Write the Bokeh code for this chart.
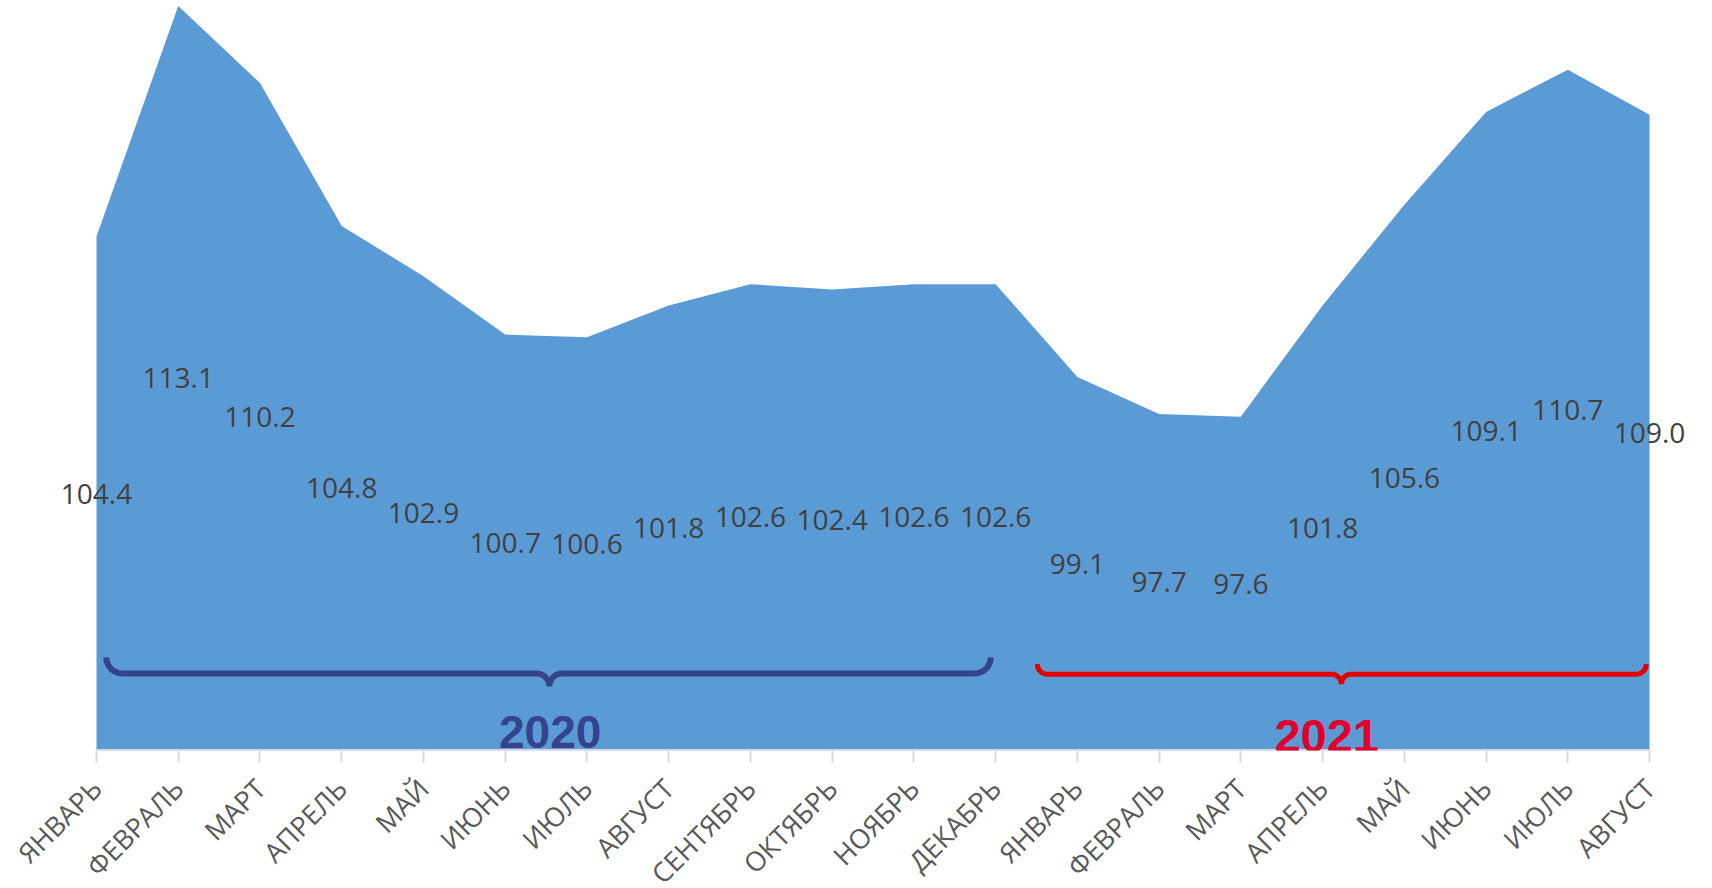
import math
import numpy as np
from bokeh.plotting import figure
from bokeh.models import FixedTicker, ColumnDataSource, Range1d
from bokeh.core.properties import value
from bokeh.embed import file_html
from bokeh.resources import INLINE

# ---- data ----
months = ["ЯНВАРЬ", "ФЕВРАЛЬ", "МАРТ", "АПРЕЛЬ", "МАЙ", "ИЮНЬ", "ИЮЛЬ", "АВГУСТ",
          "СЕНТЯБРЬ", "ОКТЯБРЬ", "НОЯБРЬ", "ДЕКАБРЬ",
          "ЯНВАРЬ", "ФЕВРАЛЬ", "МАРТ", "АПРЕЛЬ", "МАЙ", "ИЮНЬ", "ИЮЛЬ", "АВГУСТ"]
values = [104.4, 113.1, 110.2, 104.8, 102.9, 100.7, 100.6, 101.8, 102.6, 102.4, 102.6, 102.6,
          99.1, 97.7, 97.6, 101.8, 105.6, 109.1, 110.7, 109.0]
years = ["2020", "2021"]
year_first_idx = [0, 12]
year_last_idx = [11, 19]

# ---- layout ----
FRAME_W, FRAME_H = 1700, 750
SX = 81.74                         # px per category
X_START = -96 / SX
X_END = X_START + FRAME_W / SX
Y_MIN, Y_MAX = 85.0, 113.31
SY = FRAME_H / (Y_MAX - Y_MIN)     # px per y unit

idx = list(range(len(values)))
src = ColumnDataSource(dict(
    x=idx, top=values, base=[Y_MIN] * len(values),
    mid=[(v + Y_MIN) / 2 for v in values],
    lab=[f"{v:.1f}" for v in values]))

p = figure(frame_width=FRAME_W, frame_height=FRAME_H, output_backend="svg",
           toolbar_location=None, x_range=Range1d(X_START, X_END),
           y_range=Range1d(Y_MIN, Y_MAX), y_axis_location=None,
           min_border=0, min_border_left=0, min_border_right=0, min_border_top=0)
p.outline_line_color = None
p.xgrid.visible = False
p.ygrid.visible = False
p.background_fill_color = "white"

p.varea(x="x", y1="base", y2="top", source=src, fill_color="#5B9BD5")

# axis
ax = p.xaxis[0]
ax.ticker = FixedTicker(ticks=idx)
ax.major_label_overrides = {i: m for i, m in enumerate(months)}
ax.major_label_orientation = math.pi / 4
ax.major_label_text_font = "Open Sans"
ax.major_label_text_font_size = "27px"
ax.major_label_text_color = "#595959"
ax.axis_line_color = None
ax.major_tick_line_color = "#D9D9D9"
ax.major_tick_line_width = 2
ax.major_tick_out = 12
ax.major_tick_in = 0
ax.minor_tick_line_color = None
ax.major_label_standoff = 21

p.line(x=[idx[0], idx[-1]], y=[Y_MIN, Y_MIN], line_color="#D9D9D9", line_width=3)

# data labels
p.text(x="x", y="mid", text="lab", source=src, text_align="center",
       text_baseline="middle", text_font=value("Open Sans"),
       text_font_size="28px", text_color="#404040")


def brace(x0, x1, xm, yl, r_end, r_mid, n=14):
    xs, ys = [], []
    def arc(cx, cy, r, a0, a1):
        for t in np.linspace(a0, a1, n):
            xs.append(cx + r * math.cos(t) / SX)
            ys.append(cy + r * math.sin(t) / SY)
    arc(x0 + r_end / SX, yl + r_end / SY, r_end, math.pi, 1.5 * math.pi)
    arc(xm - r_mid / SX, yl - r_mid / SY, r_mid, 0.5 * math.pi, 0.0)
    arc(xm + r_mid / SX, yl - r_mid / SY, r_mid, math.pi, 0.5 * math.pi)
    arc(x1 - r_end / SX, yl + r_end / SY, r_end, 1.5 * math.pi, 2 * math.pi)
    return xs, ys


# brace 2020
bx, by = brace(year_first_idx[0] + 0.12, year_last_idx[0] - 0.06, 5.54, 87.91, 16, 13)
p.line(bx, by, line_color="#34438C", line_width=6)
# brace 2021
bx, by = brace(year_first_idx[1] - 0.49, year_last_idx[1] - 0.04, 15.23, 87.88, 10, 10)
p.line(bx, by, line_color="#E00000", line_width=5)

p.text(x=[5.55], y=[Y_MIN + 19 / SY], text=[years[0]], text_align="center",
       text_baseline="middle", text_font=value("Liberation Sans"),
       text_font_style="bold", text_font_size="46px", text_color="#34438C")
p.text(x=[15.05], y=[Y_MIN + 15 / SY], text=[years[1]], text_align="center",
       text_baseline="middle", text_font=value("Liberation Sans"),
       text_font_style="bold", text_font_size="47px", text_color="#E1002D")

open("out.html", "w").write(file_html(p, INLINE))
